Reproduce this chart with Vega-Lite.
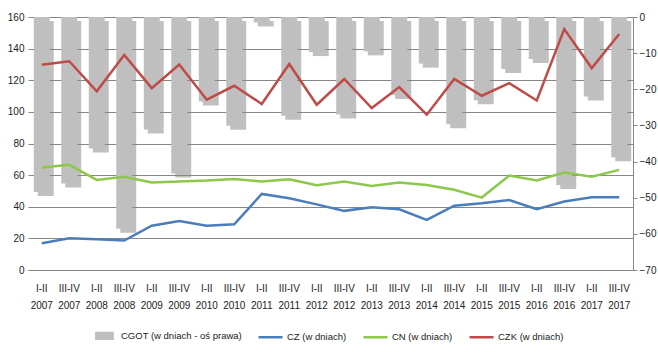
{
  "$schema": "https://vega.github.io/schema/vega-lite/v6.json",
  "width": 605,
  "height": 253,
  "autosize": "none",
  "padding": {"left": 28, "top": 17, "right": 25, "bottom": 88},
  "background": "white",
  "config": {
    "view": {"stroke": null},
    "font": "Liberation Sans, sans-serif",
    "axis": {"labelFont": "Liberation Sans, sans-serif", "labelFontSize": 10, "labelColor": "#222", "titleFontSize": 0},
    "legend": {"labelFont": "Liberation Sans, sans-serif", "labelFontSize": 9.5, "labelColor": "#222"}
  },
  "data": {
    "values": [
      {"okres": "I-II 2007", "CGOT": -48.4, "CZ": 16.9, "CN": 64.8, "CZK": 129.8},
      {"okres": "III-IV 2007", "CGOT": -46.1, "CZ": 20.0, "CN": 66.5, "CZK": 132.0},
      {"okres": "I-II 2008", "CGOT": -36.4, "CZ": 19.4, "CN": 57.0, "CZK": 113.0},
      {"okres": "III-IV 2008", "CGOT": -58.6, "CZ": 18.6, "CN": 59.0, "CZK": 136.0},
      {"okres": "I-II 2009", "CGOT": -31.1, "CZ": 28.0, "CN": 55.3, "CZK": 115.0},
      {"okres": "III-IV 2009", "CGOT": -43.3, "CZ": 31.0, "CN": 56.0, "CZK": 130.0},
      {"okres": "I-II 2010", "CGOT": -23.4, "CZ": 28.0, "CN": 56.6, "CZK": 107.7},
      {"okres": "III-IV 2010", "CGOT": -30.1, "CZ": 28.9, "CN": 57.6, "CZK": 116.5},
      {"okres": "I-II 2011", "CGOT": -1.5, "CZ": 48.1, "CN": 56.0, "CZK": 105.0},
      {"okres": "III-IV 2011", "CGOT": -27.3, "CZ": 45.4, "CN": 57.4, "CZK": 130.3},
      {"okres": "I-II 2012", "CGOT": -9.7, "CZ": 41.5, "CN": 53.6, "CZK": 104.5},
      {"okres": "III-IV 2012", "CGOT": -27.0, "CZ": 37.4, "CN": 56.0, "CZK": 120.8},
      {"okres": "I-II 2013", "CGOT": -9.5, "CZ": 39.7, "CN": 53.2, "CZK": 102.4},
      {"okres": "III-IV 2013", "CGOT": -21.6, "CZ": 38.4, "CN": 55.3, "CZK": 115.7},
      {"okres": "I-II 2014", "CGOT": -12.9, "CZ": 31.7, "CN": 53.8, "CZK": 98.2},
      {"okres": "III-IV 2014", "CGOT": -29.7, "CZ": 40.7, "CN": 50.7, "CZK": 120.8},
      {"okres": "I-II 2015", "CGOT": -23.0, "CZ": 42.2, "CN": 45.8, "CZK": 110.2},
      {"okres": "III-IV 2015", "CGOT": -14.4, "CZ": 44.3, "CN": 59.7, "CZK": 118.2},
      {"okres": "I-II 2016", "CGOT": -11.6, "CZ": 38.4, "CN": 56.6, "CZK": 107.2},
      {"okres": "III-IV 2016", "CGOT": -46.5, "CZ": 43.3, "CN": 61.6, "CZK": 152.4},
      {"okres": "I-II 2017", "CGOT": -22.0, "CZ": 46.0, "CN": 59.0, "CZK": 127.7},
      {"okres": "III-IV 2017", "CGOT": -38.8, "CZ": 46.0, "CN": 63.3, "CZK": 149.2}
    ]
  },
  "encoding": {
    "x": {
      "field": "okres",
      "type": "nominal",
      "sort": null,
      "scale": {"paddingInner": 0.42, "paddingOuter": 0.21},
      "axis": {
        "title": null,
        "labelAngle": 0,
        "labelExpr": "split(datum.label, ' ')",
        "labelLineHeight": 17,
        "labelPadding": 13,
        "ticks": false,
        "domain": true,
        "domainColor": "#868686",
        "labelBaseline": "top"
      }
    }
  },
  "layer": [
    {
      "mark": {"type": "bar", "color": "#8c8c8c", "opacity": 0.55, "xOffset": 4, "yOffset": 4},
      "encoding": {
        "y": {"field": "CGOT", "type": "quantitative", "scale": {"domain": [-70, 0], "nice": false}, "axis": null}
      }
    },
    {
      "mark": {"type": "bar"},
      "encoding": {
        "y": {
          "field": "CGOT",
          "type": "quantitative",
          "scale": {"domain": [-70, 0], "nice": false},
          "axis": {
            "orient": "right",
            "title": null,
            "values": [0, -10, -20, -30, -40, -50, -60, -70],
            "grid": false,
            "domain": true,
            "domainColor": "#868686",
            "ticks": true,
            "tickColor": "#868686",
            "tickSize": 4,
            "labelPadding": 2
          }
        },
        "color": {"datum": "CGOT (w dniach - oś prawa)", "type": "nominal"}
      }
    },
    {
      "transform": [{"fold": ["CZ", "CN", "CZK"], "as": ["seria", "wartosc"]},
                    {"lookup": "seria", "from": {"data": {"values": [
                      {"seria": "CZ", "nazwa": "CZ (w dniach)"},
                      {"seria": "CN", "nazwa": "CN (w dniach)"},
                      {"seria": "CZK", "nazwa": "CZK (w dniach)"}]}, "key": "seria", "fields": ["nazwa"]}}],
      "mark": {"type": "line", "strokeWidth": 2.5},
      "encoding": {
        "y": {
          "field": "wartosc",
          "type": "quantitative",
          "scale": {"domain": [0, 160], "nice": false},
          "axis": {
            "title": null,
            "values": [0, 20, 40, 60, 80, 100, 120, 140, 160],
            "grid": true,
            "gridColor": "#868686",
            "gridWidth": 1,
            "domain": false,
            "ticks": false,
            "labelPadding": 4
          }
        },
        "detail": {"field": "nazwa"},
        "color": {
          "field": "nazwa",
          "type": "nominal",
          "scale": {
            "domain": ["CGOT (w dniach - oś prawa)", "CZ (w dniach)", "CN (w dniach)", "CZK (w dniach)"],
            "range": ["#bfbfbf", "#4a7ebb", "#8cc84b", "#be4b48"]
          },
          "legend": {
            "title": null,
            "orient": "none",
            "legendX": 63,
            "legendY": 305,
            "direction": "horizontal",
            "columns": 4,
            "columnPadding": 11,
            "labelOffset": 3,
            "symbolSize": 576,
            "symbolType": "stroke",
            "encode": {
              "symbols": {
                "update": {
                  "shape": {"signal": "datum.value === 'CGOT (w dniach - oś prawa)' ? 'M-0.68,-0.24H0.68V0.24H-0.68Z' : 'stroke'"},
                  "fill": {"signal": "datum.value === 'CGOT (w dniach - oś prawa)' ? '#bfbfbf' : 'transparent'"},
                  "stroke": {"signal": "datum.value === 'CGOT (w dniach - oś prawa)' ? 'transparent' : scale('color', datum.value)"},
                  "strokeWidth": {"value": 2.5},
                  "opacity": {"value": 1}
                }
              }
            }
          }
        }
      }
    }
  ],
  "resolve": {"scale": {"y": "independent"}}
}
